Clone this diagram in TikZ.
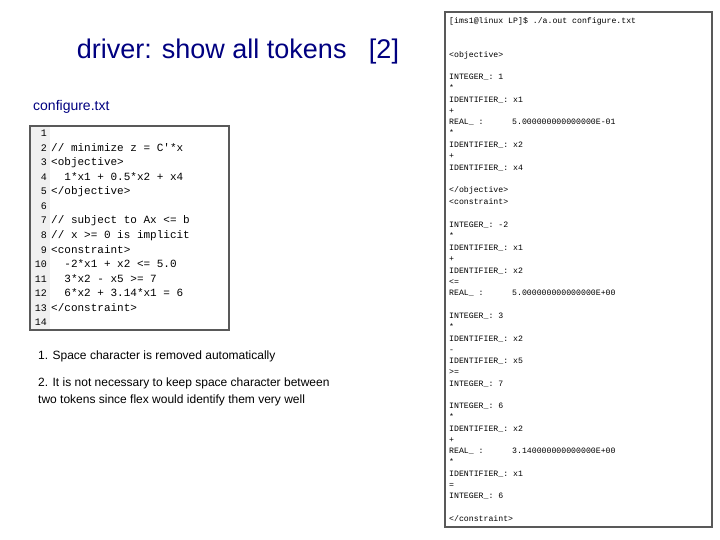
\documentclass[tikz,border=0pt]{standalone}
\usepackage{fontspec}
\setmainfont{Liberation Sans}
\setmonofont{Liberation Mono}
\definecolor{titleblue}{RGB}{0,0,128}
\begin{document}
\begin{tikzpicture}[x=1pt,y=-1pt,
  outline/.style={anchor=base west,font=\ttfamily\fontsize{8.2}{9}\selectfont,inner sep=0pt,yshift=-3pt},
  code/.style={anchor=base west,font=\ttfamily\fontsize{11}{12}\selectfont,inner sep=0pt,yshift=-4pt},
  num/.style={anchor=base east,font=\ttfamily\fontsize{10}{12}\selectfont,inner sep=0pt,yshift=-4pt},
  txt/.style={anchor=west,font=\fontsize{12}{14}\selectfont,inner sep=0pt}]
\useasboundingbox (0,0) rectangle (720,540);
\node[font=\fontsize{27}{30}\selectfont,text=titleblue] (title) at (238,52) {driver: show all tokens\ \ \ [2]};
\node[anchor=west,font=\fontsize{14}{16}\selectfont,inner sep=0pt,text=titleblue] (cfg) at (33,107) {configure.txt};
% code box
\fill[gray!12] (31,127) rectangle (50,329);
\draw[gray!70!black,line width=1.2pt] (30,126) rectangle (229,330);
\foreach \i/\t in {1/,2/{// minimize z = C'*x},3/{<objective>},4/{\ \ 1*x1 + 0.5*x2 + x4},5/{</objective>},6/,7/{// subject to Ax <= b},8/{// x >= 0 is implicit},9/{<constraint>},10/{\ \ -2*x1 + x2 <= 5.0},11/{\ \ 3*x2 - x5 >= 7},12/{\ \ 6*x2 + 3.14*x1 = 6},13/{</constraint>},14/}{
  \node[num] (n\i) at (47,{133+14.5*(\i-1)}) {\i};
  \node[code] (c\i) at (51,{133+14.5*(\i-1)}) {\t};
}
\node[txt] (note1) at (38,356) {1. Space character is removed automatically};
\node[txt] (note2) at (38,383) {2. It is not necessary to keep space character between};
\node[txt] (note3) at (38,400) {two tokens since flex would identify them very well};
% output panel
\draw[gray!70!black,line width=1.2pt] (445,12) rectangle (712,527);
\node[outline] (h) at (449,21) {[ims1@linux LP]\$ ./a.out configure.txt};
\foreach \y/\t [count=\k] in {55/{<objective>},77/{INTEGER\_: 1},88/{*},100/{IDENTIFIER\_: x1},111/{+},133/{*},145/{IDENTIFIER\_: x2},156/{+},168/{IDENTIFIER\_: x4},190/{</objective>},202/{<constraint>},225/{INTEGER\_: -2},236/{*},247/{IDENTIFIER\_: x1},258/{+},270/{IDENTIFIER\_: x2},281/{<=},315/{INTEGER\_: 3},326/{*},338/{IDENTIFIER\_: x2},349/{-},360/{IDENTIFIER\_: x5},371/{>=},383/{INTEGER\_: 7},405/{INTEGER\_: 6},416/{*},428/{IDENTIFIER\_: x2},439/{+},461/{*},473/{IDENTIFIER\_: x1},484/{=},495/{INTEGER\_: 6},518/{</constraint>}}{
  \node[outline] (o\k) at (449,\y) {\t};
}
\foreach \y/\v [count=\k] in {122/{5.000000000000000E-01},292/{5.000000000000000E+00},450/{3.140000000000000E+00}}{
  \node[outline] (r\k) at (449,\y) {REAL\_ :};
  \node[outline] (v\k) at (512,\y) {\v};
}
\end{tikzpicture}
\end{document}
